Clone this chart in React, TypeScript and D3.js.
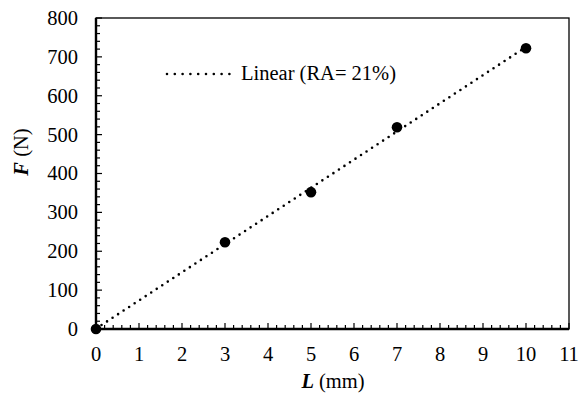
import { useMemo } from "react";
import { scaleLinear, line, range } from "d3";

const WIDTH = 582;
const HEIGHT = 394;
const M = { left: 96, right: 569, top: 18, bottom: 329 };

const lengths = [0, 3, 5, 7, 10];
const forces = [0, 223, 352, 519, 722];
const xTicks = [0, 1, 2, 3, 4, 5, 6, 7, 8, 9, 10, 11];
const yTicks = [0, 100, 200, 300, 400, 500, 600, 700, 800];
const legendLabel = "Linear (RA= 21%)";

const txt = { fontFamily: "Liberation Serif", fontSize: 20.5, fill: "#000" };

export default function App() {
  const x = useMemo(() => scaleLinear().domain([0, 11]).range([M.left, M.right]), []);
  const y = useMemo(() => scaleLinear().domain([0, 800]).range([M.bottom, M.top]), []);

  // least squares fit of the points
  const fit = useMemo(() => {
    const n = lengths.length;
    const mx = lengths.reduce((a, b) => a + b, 0) / n;
    const my = forces.reduce((a, b) => a + b, 0) / n;
    let sxy = 0;
    let sxx = 0;
    lengths.forEach((v, i) => {
      sxy += (v - mx) * (forces[i] - my);
      sxx += (v - mx) * (v - mx);
    });
    const slope = sxy / sxx;
    return { slope, intercept: my - slope * mx };
  }, []);

  const trend = line<number>()
    .x((d) => x(d))
    .y((d) => y(fit.slope * d + fit.intercept))([0, 10]);

  const xMinor = range(0, 11.001, 0.2);
  const yMinor = range(0, 800.001, 20);

  return (
    <div style={{ position: "absolute", left: 0, top: 0 }}>
      <svg width={WIDTH} height={HEIGHT} viewBox={`0 0 ${WIDTH} ${HEIGHT}`} style={{ display: "block", background: "#fff" }}>
        {/* frame */}
        <rect x={M.left} y={M.top} width={M.right - M.left} height={M.bottom - M.top} fill="none" stroke="#000" strokeWidth={1.3} />

        {/* minor + major ticks */}
        {yMinor.map((v) => (
          <line key={`ym${v}`} x1={M.left} x2={M.left + (v % 100 === 0 ? 6 : 4)} y1={y(v)} y2={y(v)} stroke="#000" strokeWidth={1.2} />
        ))}
        {xMinor.map((v, i) => (
          <line key={`xm${i}`} x1={x(v)} x2={x(v)} y1={M.bottom} y2={M.bottom - (i % 5 === 0 ? 6 : 4)} stroke="#000" strokeWidth={1.2} />
        ))}

        {/* axes */}
        <line x1={M.left} x2={M.left} y1={M.top} y2={M.bottom} stroke="#000" strokeWidth={2.4} />
        <line x1={M.left} x2={M.right} y1={M.bottom} y2={M.bottom} stroke="#000" strokeWidth={2.4} />

        {yTicks.map((v) => (
          <text key={`yl${v}`} x={78} y={y(v)} dy="0.34em" textAnchor="end" style={txt}>
            {v}
          </text>
        ))}
        {xTicks.map((v) => (
          <text key={`xl${v}`} x={x(v)} y={361} textAnchor="middle" style={txt}>
            {v}
          </text>
        ))}

        {/* trend line */}
        <path d={trend ?? ""} fill="none" stroke="#000" strokeWidth={2.6} strokeLinecap="round" strokeDasharray="0 6.6" />

        {/* points */}
        {lengths.map((v, i) => (
          <circle key={`p${v}`} cx={x(v)} cy={y(forces[i])} r={5.3} fill="#000" />
        ))}

        {/* legend */}
        <line x1={167} x2={230} y1={74} y2={74} stroke="#000" strokeWidth={2.6} strokeLinecap="round" strokeDasharray="0 7.8" />
        <text x={241} y={80} style={txt}>{legendLabel}</text>

        {/* axis titles */}
        <text x={333} y={388} textAnchor="middle" style={txt}>
          <tspan fontWeight="bold" fontStyle="italic">L</tspan>
          <tspan> (mm)</tspan>
        </text>
        <text transform="translate(28,152) rotate(-90)" textAnchor="middle" style={txt}>
          <tspan fontWeight="bold" fontStyle="italic">F</tspan>
          <tspan> (N)</tspan>
        </text>
      </svg>
    </div>
  );
}
